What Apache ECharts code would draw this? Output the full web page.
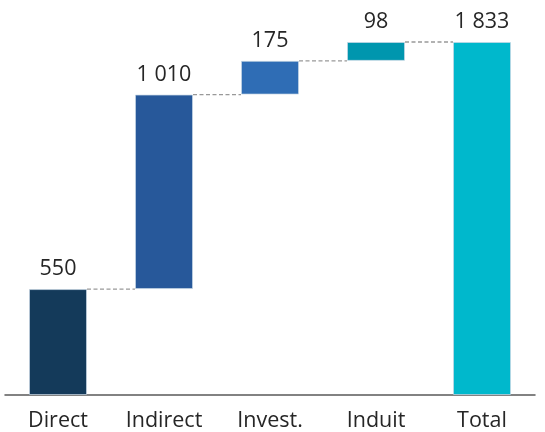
<!DOCTYPE html>
<html>
<head>
<meta charset="utf-8">
<script src="https://cdn.jsdelivr.net/npm/echarts@6/dist/echarts.min.js"></script>
<style>
  html, body { margin: 0; padding: 0; background: #fff; }
  #chartBox { width: 545px; height: 432px; }
</style>
</head>
<body>
<div id="chartBox"></div>
<script>
const categories = ["Direct", "Indirect", "Invest.", "Induit", "Total"];
const values = [550, 1010, 175, 98, 1833];
const colors = ["#143A5A", "#27589A", "#2F6DB5", "#0096AE", "#00B8CC"];

// invisible base of each floating bar (running total before the step; total starts at 0)
const bases = [];
let run = 0;
values.forEach((v, i) => {
  if (i === values.length - 1) {
    bases.push(0);
  } else {
    bases.push(run);
    run += v;
  }
});
// level of the dashed connector leaving each bar
const levels = values.map((v, i) => bases[i] + v).slice(0, -1);

const fmt = (n) => String(n).replace(/\B(?=(\d{3})+(?!\d))/g, " ");
const barWidth = 58;

const chartFun = () => {
  const myChart = echarts.init(document.getElementById("chartBox"));
  const option = {
    animation: false,
    textStyle: { fontFamily: "Open Sans" },
    grid: { left: 5, right: 10, top: 42, bottom: 37 },
    xAxis: {
      type: "category",
      data: categories,
      axisLine: { lineStyle: { color: "#595959", width: 1.5 } },
      axisTick: { show: false },
      axisLabel: { color: "#262626", fontSize: 21.5, margin: 15 },
    },
    yAxis: {
      type: "value",
      min: 0,
      max: 1833,
      show: false,
      splitLine: { show: false },
    },
    series: [
      {
        name: "base",
        type: "bar",
        stack: "wf",
        barWidth: barWidth,
        itemStyle: { color: "transparent" },
        data: bases,
        silent: true,
      },
      {
        name: "value",
        type: "bar",
        stack: "wf",
        barWidth: barWidth,
        data: values.map((v, i) => ({
          value: v,
          itemStyle: { color: colors[i], borderColor: "rgba(200,215,230,0.7)", borderWidth: 1 },
        })),
        label: {
          show: true,
          position: "top",
          distance: 9,
          color: "#262626",
          fontSize: 21.5,
          formatter: (p) => fmt(p.value),
        },
      },
      {
        name: "connector",
        type: "custom",
        z: 1,
        data: levels.map((lv, i) => [i, lv]),
        renderItem: (params, api) => {
          const i = api.value(0);
          const a = api.coord([i, api.value(1)]);
          const b = api.coord([i + 1, api.value(1)]);
          return {
            type: "line",
            shape: { x1: a[0] + barWidth / 2, y1: a[1], x2: b[0] - barWidth / 2, y2: b[1] },
            style: { stroke: "#999", lineWidth: 1.3, lineDash: [4, 2.5] },
          };
        },
      },
    ],
  };
  myChart.setOption(option);
};

chartFun();
</script>
</body>
</html>
